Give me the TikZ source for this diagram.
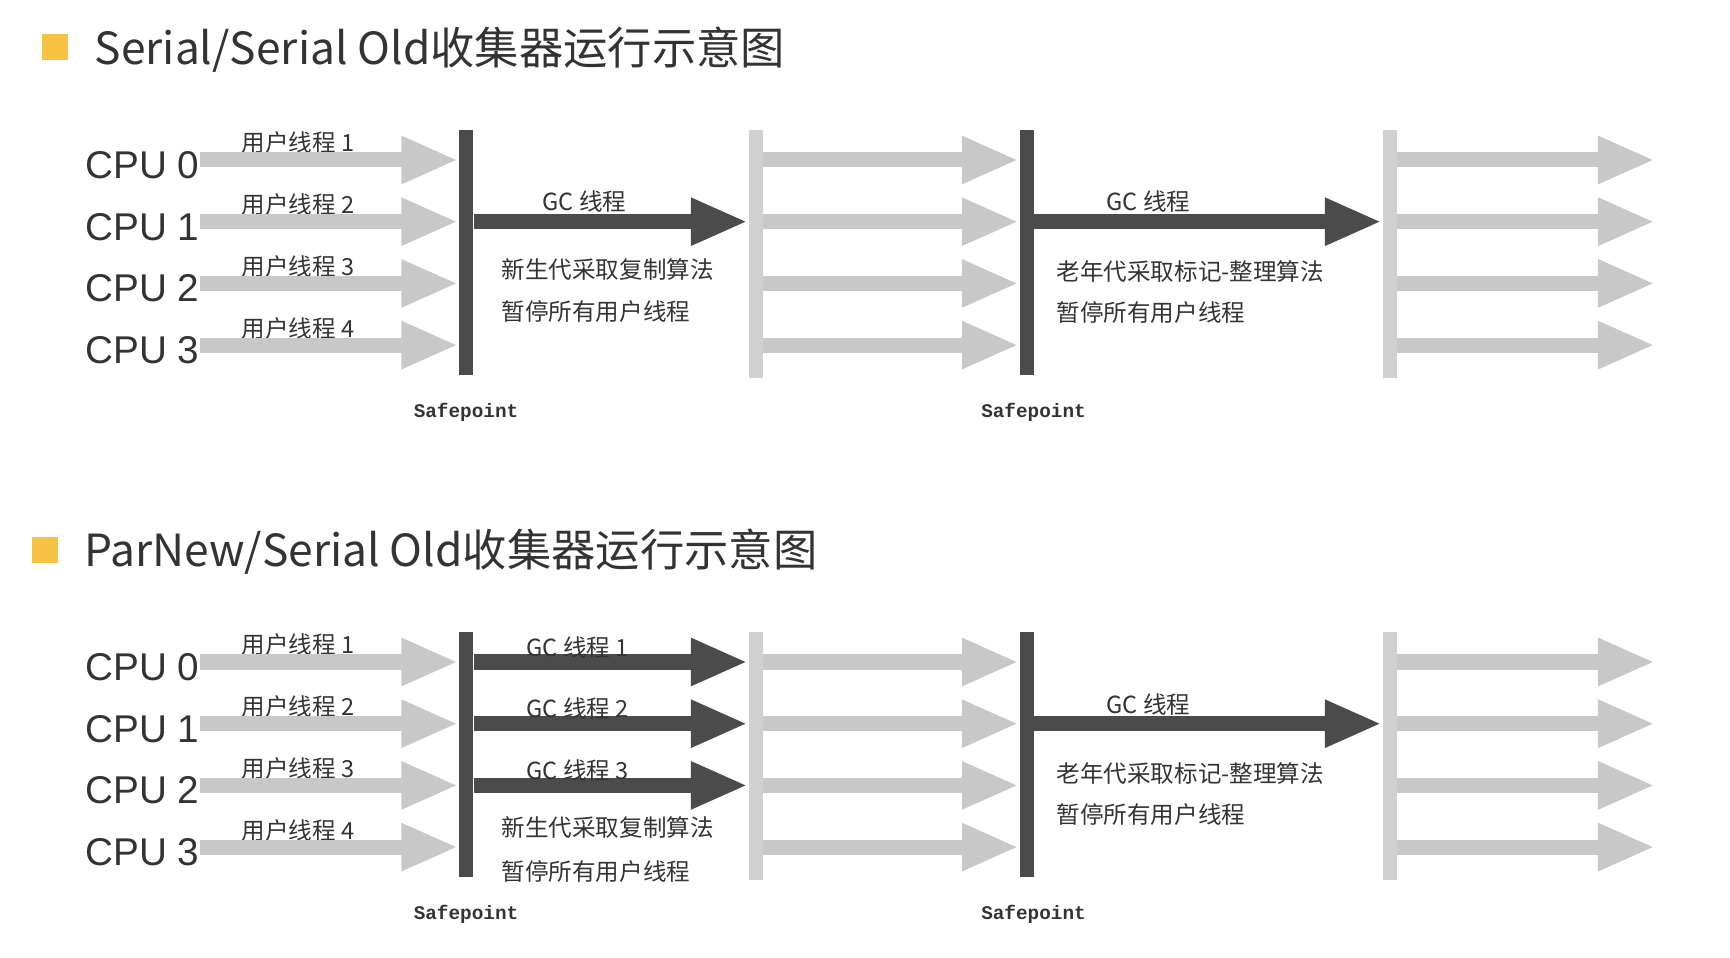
\documentclass[tikz,border=0pt]{standalone}
\usepackage{fontspec}
\setmainfont{Liberation Sans}
\setmonofont{Liberation Mono}
\newfontfamily\cjkfont{Noto Sans CJK SC}
\usetikzlibrary{arrows.meta, positioning}

\definecolor{inkgray}{HTML}{333333}
\definecolor{usergray}{HTML}{C8C8C8}
\definecolor{bargray}{HTML}{D0D0D0}
\definecolor{gcgray}{HTML}{4B4B4B}
\definecolor{bulletyellow}{HTML}{F7C244}

\begin{document}
\begin{tikzpicture}[x=0.01cm, y=-0.01cm,
    heading/.style={anchor=west, inner sep=0pt, text=inkgray,
        font=\cjkfont\fontsize{12.6}{15}\selectfont},
    bullet/.style={fill=bulletyellow, minimum size=0.25cm, inner sep=0pt},
    cpu/.style={anchor=east, inner sep=0pt, text=inkgray,
        font=\fontsize{11}{13}\selectfont},
    note/.style={anchor=west, inner sep=0pt, text=inkgray,
        font=\cjkfont\fontsize{6.7}{8}\selectfont},
    safe/.style={inner sep=0pt, text=inkgray,
        font=\ttfamily\bfseries\fontsize{5.5}{7}\selectfont},
    darkbar/.style={fill=gcgray, minimum width=0.14cm, minimum height=2.45cm, inner sep=0pt},
    lightbar/.style={fill=bargray, minimum width=0.14cm, minimum height=2.48cm, inner sep=0pt},
    user/.style={draw=usergray, line width=0.15cm,
        -{Triangle[length=0.57cm, width=0.44cm]}},
    gc/.style={user, draw=gcgray}
]
\useasboundingbox (0,0) rectangle (1730,958);

% =========================
% Serial / Serial Old
% =========================
\node[bullet] (b1) at (55,47) {};
\node[heading] (t1) at (94,50) {Serial/Serial Old收集器运行示意图};

\begin{scope}[shift={(0,0)}]
    % safepoints and resume lines
    \node[darkbar] (sa1) at (466,252.5) {};
    \node[lightbar] (ra1) at (755.5,254) {};
    \node[darkbar] (sa2) at (1026.5,252.5) {};
    \node[lightbar] (ra2) at (1389.5,254) {};
    \node[safe, below=0.27cm of sa1] (pa1) {Safepoint};
    \node[safe, below=0.27cm of sa2, xshift=0.07cm] (pa2) {Safepoint};

    % cpus and user threads
    \foreach \i [evaluate=\i as \y using 160+61.7*\i,
                 evaluate=\i as \n using int(\i+1)] in {0,...,3} {
        \coordinate (ua\i) at (200,\y);
        \coordinate (ea\i) at (1655,\y);
        \node[cpu] (ca\i) at (200,\y+5) {CPU \i};
        \node[note] (na\i) at (241,\y-17) {用户线程 \n};
        \draw[user] (ua\i) -- (ua\i -| sa1.west);
        \draw[user] (ra1.east |- ua\i) -- (ua\i -| sa2.west);
        \draw[user] (ra2.east |- ua\i) -- (ea\i);
    }

    % gc threads
    \draw[gc] (sa1.east |- ua1) -- (ua1 -| ra1.west);
    \node[note] (ga1) at (542,202) {GC 线程};
    \node[note] (ma1) at (501,270) {新生代采取复制算法};
    \node[note] (ma2) at (501,312) {暂停所有用户线程};

    \draw[gc] (sa2.east |- ua1) -- (ua1 -| ra2.west);
    \node[note] (ga2) at (1106,202) {GC 线程};
    \node[note] (ma3) at (1056,272) {老年代采取标记-整理算法};
    \node[note] (ma4) at (1056,313) {暂停所有用户线程};
\end{scope}

% =========================
% ParNew / Serial Old
% =========================
\node[bullet] (b2) at (45,550) {};
\node[heading] (t2) at (84,552) {ParNew/Serial Old收集器运行示意图};

\begin{scope}[shift={(0,502)}]
    % safepoints and resume lines
    \node[darkbar] (sb1) at (466,252.5) {};
    \node[lightbar] (rb1) at (755.5,254) {};
    \node[darkbar] (sb2) at (1026.5,252.5) {};
    \node[lightbar] (rb2) at (1389.5,254) {};
    \node[safe, below=0.27cm of sb1] (pb1) {Safepoint};
    \node[safe, below=0.27cm of sb2, xshift=0.07cm] (pb2) {Safepoint};

    % cpus and user threads
    \foreach \i [evaluate=\i as \y using 160+61.7*\i,
                 evaluate=\i as \n using int(\i+1)] in {0,...,3} {
        \coordinate (ub\i) at (200,\y);
        \coordinate (eb\i) at (1655,\y);
        \node[cpu] (cb\i) at (200,\y+5) {CPU \i};
        \node[note] (nb\i) at (241,\y-17) {用户线程 \n};
        \draw[user] (ub\i) -- (ub\i -| sb1.west);
        \draw[user] (rb1.east |- ub\i) -- (ub\i -| sb2.west);
        \draw[user] (rb2.east |- ub\i) -- (eb\i);
    }

    % parallel gc threads
    \foreach \i [evaluate=\i as \y using 160+61.7*\i,
                 evaluate=\i as \n using int(\i+1)] in {0,1,2} {
        \draw[gc] (sb1.east |- ub\i) -- (ub\i -| rb1.west);
        \node[note] (gb\i) at (526,\y-15) {GC 线程 \n};
    }
    \node[note] (mb1) at (501,326) {新生代采取复制算法};
    \node[note] (mb2) at (501,370) {暂停所有用户线程};

    \draw[gc] (sb2.east |- ub1) -- (ub1 -| rb2.west);
    \node[note] (gb3) at (1106,202) {GC 线程};
    \node[note] (mb3) at (1056,272) {老年代采取标记-整理算法};
    \node[note] (mb4) at (1056,313) {暂停所有用户线程};
\end{scope}

\end{tikzpicture}
\end{document}
